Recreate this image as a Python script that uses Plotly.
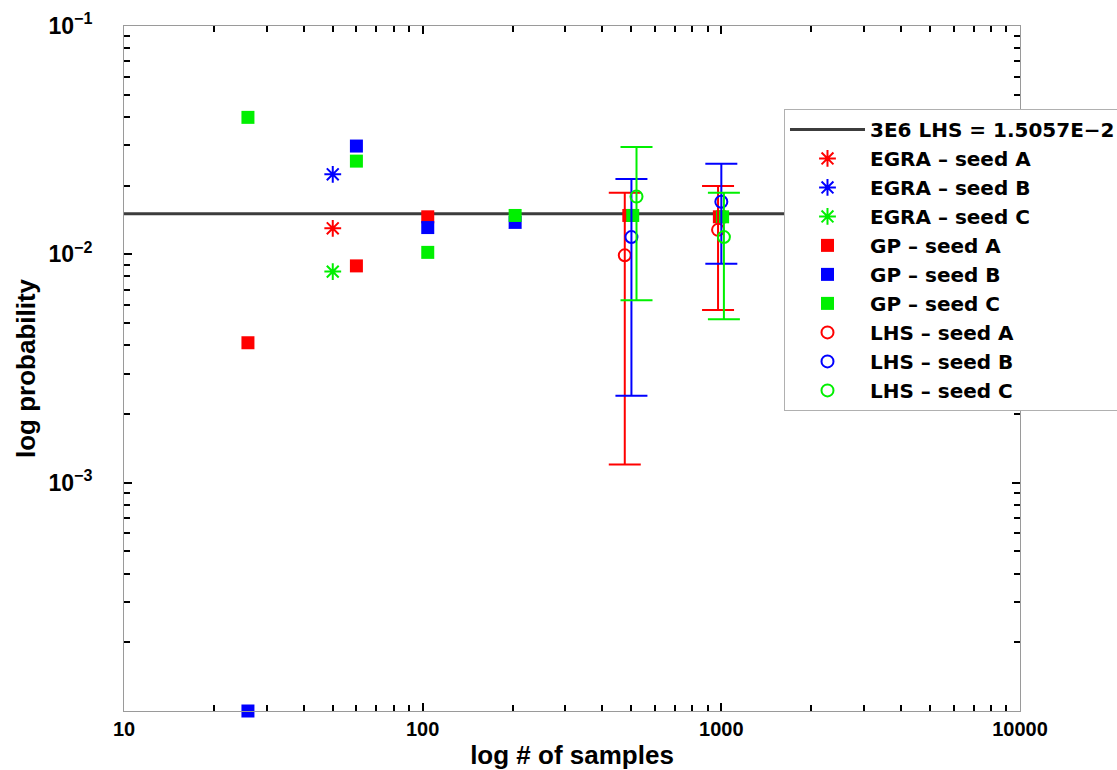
import plotly.graph_objects as go

# Reference estimate from 3E6 LHS samples
ref_prob = 1.5057e-2
ref_label = "3E6 LHS = 1.5057E\u22122"
ref_x = [10, 10000]

# EGRA results
egra_x = [50]
egra_a = [0.0130]
egra_b = [0.0224]
egra_c = [0.0084]

# GP results
gp_a_x = [26, 60, 104, 490, 985]
gp_a_y = [0.0041, 0.0089, 0.0146, 0.0148, 0.0146]
gp_b_x = [26, 60, 104, 204]
gp_b_y = [1.0e-4, 0.0298, 0.0131, 0.0138]
gp_c_x = [26, 60, 104, 204, 505, 1010]
gp_c_y = [0.0398, 0.0256, 0.0102, 0.0148, 0.0148, 0.0146]

# LHS results with error bars
lhs_a_x = [475, 975]
lhs_a_y = [0.0099, 0.0128]
lhs_a_err = [0.0087, 0.0071]
lhs_b_x = [500, 1000]
lhs_b_y = [0.0119, 0.0170]
lhs_b_err = [0.0095, 0.0079]
lhs_c_x = [520, 1020]
lhs_c_y = [0.0179, 0.0119]
lhs_c_err = [0.0116, 0.0067]

seed_colors = {"A": "#ff0000", "B": "#0000ff", "C": "#00f000"}

x_major = [10, 100, 1000, 10000]
x_major_text = ["10", "100", "1000", "10000"]
y_major = [1e-4, 1e-3, 1e-2, 1e-1]
y_major_text = ["", "10<sup>\u22123</sup>", "10<sup>\u22122</sup>", "10<sup>\u22121</sup>"]

FONT = "Liberation Sans, Arial, Helvetica, sans-serif"
LEGEND_FONT = "DejaVu Sans, Liberation Sans, sans-serif"

fig = go.Figure()

fig.add_trace(go.Scatter(
    x=ref_x, y=[ref_prob] * len(ref_x), mode="lines", name=ref_label,
    line=dict(color="#3c3c3c", width=3),
))

for seed, ys in (("A", egra_a), ("B", egra_b), ("C", egra_c)):
    fig.add_trace(go.Scatter(
        x=egra_x, y=ys, mode="markers", name=f"EGRA \u2013 seed {seed}",
        marker=dict(symbol="asterisk-open", size=14, color=seed_colors[seed],
                    line=dict(color=seed_colors[seed], width=2)),
        cliponaxis=False,
    ))

for seed, xs, ys in (("A", gp_a_x, gp_a_y), ("B", gp_b_x, gp_b_y), ("C", gp_c_x, gp_c_y)):
    fig.add_trace(go.Scatter(
        x=xs, y=ys, mode="markers", name=f"GP \u2013 seed {seed}",
        marker=dict(symbol="square", size=13, color=seed_colors[seed]),
        cliponaxis=False,
    ))

for seed, xs, ys, es in (("A", lhs_a_x, lhs_a_y, lhs_a_err),
                         ("B", lhs_b_x, lhs_b_y, lhs_b_err),
                         ("C", lhs_c_x, lhs_c_y, lhs_c_err)):
    fig.add_trace(go.Scatter(
        x=xs, y=ys, mode="markers", name=f"LHS \u2013 seed {seed}",
        marker=dict(symbol="circle-open", size=12, color=seed_colors[seed],
                    line=dict(color=seed_colors[seed], width=2)),
        error_y=dict(type="data", array=es, symmetric=True,
                     color=seed_colors[seed], thickness=2, width=16),
        cliponaxis=False,
    ))

x_minor = [m * 10 ** k for k in (1, 2, 3) for m in range(2, 10)]
y_minor = [m * 10.0 ** k for k in (-4, -3, -2) for m in range(2, 10)]

axis_common = dict(
    type="log", showline=True, linecolor="#9a9a9a", linewidth=1,
    mirror="ticks", ticks="inside", ticklen=8, tickwidth=2, tickcolor="black",
    showgrid=False, zeroline=False, tickmode="array",
)

fig.update_xaxes(
    **axis_common, range=[1, 4],
    tickvals=x_major, ticktext=x_major_text,
    minor=dict(tickvals=x_minor, ticks="inside", ticklen=6, tickwidth=2,
               tickcolor="black", showgrid=False),
    tickfont=dict(family=FONT, size=20, color="black", weight="bold"),
    ticklabelstandoff=0,
    title=dict(text="log # of samples", standoff=12,
               font=dict(family=FONT, size=26, color="black", weight="bold")),
)
fig.update_yaxes(
    **axis_common, range=[-4, -1],
    tickvals=y_major, ticktext=y_major_text,
    minor=dict(tickvals=y_minor, ticks="inside", ticklen=6, tickwidth=2,
               tickcolor="black", showgrid=False),
    tickfont=dict(family=FONT, size=23, color="black", weight="bold"),
    ticklabelstandoff=26,
    title=dict(text="log probability", standoff=5,
               font=dict(family=FONT, size=26, color="black", weight="bold")),
)

fig.update_layout(
    width=1117, height=770,
    margin=dict(l=124, r=97, t=26, b=59, autoexpand=False),
    plot_bgcolor="white", paper_bgcolor="white",
    legend=dict(
        x=0.7366, y=0.879, xanchor="left", yanchor="top",
        bgcolor="white", bordercolor="#b0b0b0", borderwidth=1,
        font=dict(family=LEGEND_FONT, size=20, color="black", weight="bold"),
        itemwidth=75, tracegroupgap=0,
    ),
    showlegend=True,
)

fig.write_html("out.html")
